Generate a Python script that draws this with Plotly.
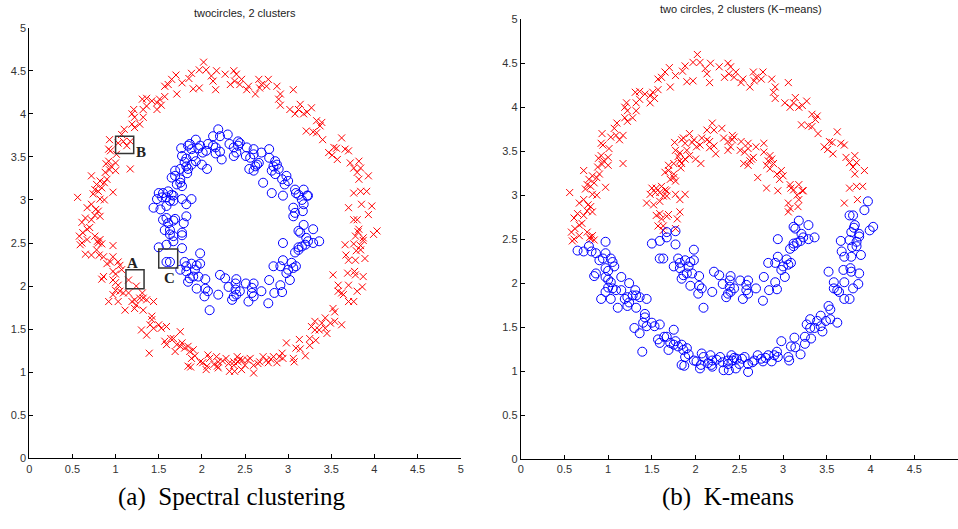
import plotly.graph_objects as go

# Two-circles dataset, split into four groups:
# outer ring / inner ring, each as the part above and below the K-means cut.
outer_upper_x = [2.02, 1.97, 2.05, 2.11, 2.17, 2.13, 2.16, 1.88, 1.85, 1.90, 1.97, 1.77, 1.70, 1.65, 1.71, 1.61, 1.57, 1.57,
                 1.51, 1.48, 1.53, 1.48, 1.42, 1.36, 1.31, 1.36, 1.21, 1.32, 1.22, 1.19, 1.32, 1.28, 1.19, 1.22, 1.10, 1.07,
                 0.93, 1.03, 1.09, 1.13, 1.17, 0.92, 0.94, 1.01, 1.17, 0.92, 1.00, 0.89, 0.95, 0.93, 1.00, 0.88, 0.82, 0.87,
                 0.90, 0.72, 0.78, 0.76, 0.80, 0.84, 0.97, 0.74, 0.82, 0.87, 0.67, 0.72, 0.77, 0.76, 0.80, 0.82, 0.72, 0.65,
                 0.61, 0.67, 0.70, 0.76, 0.62, 0.58, 0.67, 0.79, 0.82, 0.61, 0.56, 0.59, 0.84, 0.80,
                 2.27, 2.37, 2.40, 2.38, 2.33, 2.46, 2.44, 2.54, 2.52, 2.62, 2.66, 2.69, 2.77, 2.67, 2.75, 2.87, 2.91, 2.89,
                 2.91, 3.06, 3.02, 3.14, 3.12, 3.08, 3.27, 3.18, 3.22, 3.33, 3.39, 3.37, 3.21, 3.29, 3.33, 3.40, 3.62, 3.53,
                 3.47, 3.51, 3.56, 3.66, 3.70, 3.57, 3.72, 3.82, 3.76, 3.84, 3.80, 3.82, 3.93, 3.76, 3.84, 3.91, 3.85, 3.70]
outer_upper_y = [4.60, 4.51, 4.51, 4.44, 4.50, 4.38, 4.28, 4.47, 4.41, 4.29, 4.30, 4.36, 4.45, 4.40, 4.23, 4.34, 4.32, 4.20,
                 4.17, 4.13, 4.10, 4.05, 4.15, 4.18, 4.17, 4.09, 4.05, 4.05, 3.96, 4.00, 3.96, 3.88, 3.88, 3.84, 3.82, 3.76,
                 3.70, 3.66, 3.68, 3.63, 3.68, 3.59, 3.57, 3.53, 3.36, 3.45, 3.43, 3.42, 3.39, 3.35, 3.34, 3.32, 3.22, 3.20,
                 3.24, 3.28, 3.18, 3.12, 3.10, 3.14, 3.09, 3.07, 3.01, 3.00, 2.91, 2.95, 2.89, 2.82, 2.87, 2.81, 2.77, 2.79,
                 2.74, 2.66, 2.68, 2.58, 2.62, 2.58, 2.54, 2.52, 2.54, 2.50, 3.03, 2.48, 2.49, 2.50,
                 4.46, 4.50, 4.46, 4.38, 4.34, 4.40, 4.34, 4.32, 4.28, 4.23, 4.40, 4.34, 4.40, 4.30, 4.32, 4.32, 4.23, 4.17,
                 4.10, 4.28, 4.05, 4.11, 4.05, 4.00, 4.07, 4.00, 4.02, 3.92, 3.90, 3.86, 3.80, 3.79, 3.78, 3.70, 3.72, 3.61,
                 3.55, 3.52, 3.60, 3.59, 3.57, 3.47, 3.43, 3.45, 3.37, 3.37, 3.32, 3.24, 3.28, 3.08, 3.10, 3.10, 2.95, 2.91]

outer_lower_x = [0.97, 3.76, 3.80, 3.93, 3.82, 3.78, 3.87, 3.99, 4.03, 3.76, 3.84, 3.97,
                 0.65, 0.72, 0.78, 0.81, 0.86, 0.97, 0.94, 0.90, 1.03, 1.05, 1.07, 0.86, 0.84, 0.97, 1.00, 0.97, 1.00, 1.00,
                 0.97, 1.03, 1.05, 0.92, 1.03, 1.09, 1.15, 1.15, 1.11, 1.19, 1.22, 1.24, 1.24, 1.22, 1.28, 1.31, 1.32, 1.36,
                 1.32, 1.30, 1.36, 1.44, 1.42, 1.42, 1.40, 1.44, 1.50, 1.53, 1.59, 1.39, 1.57, 1.59, 1.64, 1.67, 1.71, 1.69,
                 1.75, 1.77, 1.75, 1.80, 1.84, 1.86, 1.90, 1.92, 1.88, 1.84, 1.87, 1.98, 2.01, 2.06, 2.07, 2.09, 2.05, 2.17,
                 2.19, 2.18, 2.19, 2.28, 2.31, 2.32, 2.37, 2.37, 2.41, 2.42, 2.38, 2.47, 2.50, 2.46, 2.56, 2.60, 2.60, 2.67,
                 2.71, 2.75, 2.77, 2.83, 2.87, 2.90, 2.93, 2.94, 2.98, 3.06, 3.07, 3.09, 3.14, 3.13, 3.20, 3.25, 3.25, 3.27,
                 3.31, 3.31, 3.32, 3.36, 3.39, 3.43, 3.43, 3.45, 3.49, 3.52, 3.54, 3.54, 3.62, 3.52, 3.58, 3.58, 3.62, 3.64,
                 3.66, 3.67, 3.70, 3.69, 3.70, 3.70, 3.76, 3.77, 3.78, 3.79, 3.78, 3.80, 3.81, 3.84, 3.87, 3.87, 3.89, 3.86,
                 2.24, 2.53, 2.65, 2.80, 2.14, 2.44]
outer_lower_y = [2.47, 2.77, 2.77, 2.83, 2.66, 2.58, 2.56, 2.60, 2.64, 2.49, 2.47, 2.93,
                 2.37, 2.36, 2.42, 2.36, 2.34, 2.34, 2.28, 2.26, 2.28, 2.24, 2.19, 2.11, 2.08, 2.17, 2.14, 2.07, 2.04, 1.95,
                 1.90, 2.01, 1.94, 1.82, 1.82, 1.92, 2.07, 1.92, 1.72, 1.82, 1.84, 2.00, 1.78, 1.74, 1.86, 1.92, 1.86, 1.84,
                 1.72, 1.49, 1.43, 1.82, 1.65, 1.61, 1.55, 1.51, 1.55, 1.51, 1.53, 1.22, 1.36, 1.32, 1.39, 1.39, 1.32, 1.24,
                 1.47, 1.34, 1.30, 1.28, 1.30, 1.24, 1.26, 1.19, 1.16, 1.07, 1.06, 1.12, 1.11, 1.07, 1.20, 1.16, 1.03, 1.18,
                 1.12, 1.07, 1.05, 1.16, 1.10, 1.01, 1.12, 1.08, 1.18, 1.12, 1.01, 1.14, 1.08, 1.03, 1.16, 1.08, 0.99, 1.12,
                 1.18, 1.14, 1.11, 1.18, 1.11, 1.18, 1.22, 1.16, 1.34, 1.16, 1.12, 1.28, 1.27, 1.38, 1.19, 1.31, 1.39, 1.53,
                 1.59, 1.49, 1.37, 1.49, 1.57, 1.63, 1.51, 1.45, 1.57, 1.74, 1.70, 1.59, 1.55, 2.13, 2.01, 1.94, 1.92, 1.90,
                 2.48, 2.36, 2.30, 2.15, 2.01, 1.82, 1.82, 2.17, 2.13, 2.41, 2.30, 1.94, 2.63, 2.42, 2.53, 2.11, 2.32, 1.99,
                 1.13, 1.14, 1.10, 1.15, 1.09, 1.15]

inner_upper_x = [2.19, 2.21, 2.13, 2.30, 2.13, 2.16, 2.21, 2.23, 2.16, 2.07, 1.98, 2.01, 2.05, 1.93, 1.86, 1.96, 1.90, 1.88,
                 1.84, 1.76, 1.77, 1.82, 1.93, 2.00, 2.06, 1.80, 1.82, 1.88, 1.75, 1.84, 1.83, 1.69, 1.69, 1.65, 1.75, 1.77,
                 1.75, 1.71, 2.32, 2.37, 2.44, 2.42, 2.40, 2.42, 2.52, 2.60, 2.60, 2.51, 2.56, 2.37, 2.69, 2.78, 2.64, 2.62,
                 2.55, 2.60, 2.66, 2.78, 2.85, 2.87, 2.83, 2.89, 2.85, 2.81, 2.71, 2.93, 2.98, 3.00, 2.96, 2.81, 2.94, 3.08,
                 3.09, 3.18, 3.12, 3.22, 3.23, 3.16, 3.18, 3.06, 3.08, 3.06, 3.17, 1.59, 1.44, 1.52, 1.48, 1.50, 1.55, 1.61,
                 1.65, 1.67, 1.59, 1.54, 1.63, 1.67, 1.77, 1.88, 1.82, 1.59, 1.55, 1.61, 1.57, 1.63, 1.67, 1.69, 1.82, 1.79,
                 1.63, 1.77]
inner_upper_y = [3.82, 3.74, 3.74, 3.76, 3.63, 3.61, 3.56, 3.47, 3.54, 3.65, 3.63, 3.55, 3.57, 3.70, 3.65, 3.60, 3.51, 3.59,
                 3.63, 3.60, 3.51, 3.48, 3.45, 3.41, 3.36, 3.44, 3.39, 3.41, 3.36, 3.36, 3.31, 3.34, 3.28, 3.26, 3.20, 3.16,
                 3.24, 3.18, 3.65, 3.61, 3.66, 3.63, 3.55, 3.68, 3.61, 3.59, 3.53, 3.51, 3.49, 3.51, 3.55, 3.59, 3.41, 3.39,
                 3.36, 3.34, 3.43, 3.49, 3.45, 3.41, 3.39, 3.36, 3.30, 3.34, 3.20, 3.24, 3.28, 3.22, 3.18, 3.08, 3.05, 3.12,
                 3.08, 3.12, 3.06, 3.05, 3.05, 3.00, 2.95, 2.91, 2.85, 2.81, 2.87, 2.93, 2.91, 2.89, 3.01, 3.08, 3.08, 3.10,
                 3.06, 3.05, 3.03, 3.03, 2.99, 2.99, 3.01, 3.01, 2.95, 2.79, 2.77, 2.73, 2.65, 2.65, 2.76, 2.78, 2.81, 2.73,
                 2.60, 2.62]

inner_lower_x = [1.67, 1.50, 3.18, 3.12, 3.14, 3.29, 3.21, 3.23, 3.36, 2.94, 3.12,
                 1.59, 1.67, 1.77, 1.77, 1.59, 1.63, 1.75, 1.80, 1.82, 1.88, 1.94, 1.98, 1.98, 1.82, 1.92, 1.90, 1.86, 1.84,
                 1.96, 1.94, 2.04, 2.04, 2.07, 2.03, 2.09, 2.19, 2.21, 2.27, 2.31, 2.35, 2.39, 2.39, 2.40, 2.44, 2.37, 2.40,
                 2.51, 2.54, 2.58, 2.58, 2.60, 2.60, 2.69, 2.78, 2.77, 2.83, 2.84, 2.91, 2.91, 2.93, 2.94, 2.98, 3.00, 3.02,
                 3.04, 3.06, 3.09, 3.08, 3.12, 3.16, 3.20, 3.29]
inner_lower_y = [2.58, 2.45, 2.71, 2.64, 2.62, 2.66, 2.56, 2.52, 2.52, 2.50, 2.45,
                 2.48, 2.52, 2.59, 2.44, 2.28, 2.28, 2.19, 2.28, 2.23, 2.26, 2.24, 2.38, 2.26, 2.17, 2.19, 2.11, 2.09, 2.05,
                 2.11, 1.97, 2.08, 1.97, 1.94, 1.88, 1.72, 1.90, 2.13, 2.09, 1.99, 1.84, 2.03, 1.96, 2.08, 1.94, 1.88, 1.90,
                 2.03, 1.82, 1.98, 1.92, 1.88, 2.03, 1.94, 2.07, 1.80, 2.23, 1.92, 2.23, 2.01, 1.93, 2.30, 2.15, 2.19, 2.07,
                 2.27, 2.21, 2.23, 2.39, 2.42, 2.46, 2.48, 2.50]

tick_vals = [0, 0.5, 1, 1.5, 2, 2.5, 3, 3.5, 4, 4.5, 5]
tick_text = ["0", "0.5", "1", "1.5", "2", "2.5", "3", "3.5", "4", "4.5", "5"]

RED = "#ff0000"
BLUE = "#0000ff"
W, H = 958, 529


def red_trace(xs, ys, xa, ya):
    return go.Scatter(x=xs, y=ys, mode="markers", xaxis=xa, yaxis=ya, showlegend=False,
                      marker=dict(symbol="x-thin", size=7, line=dict(color=RED, width=1)))


def blue_trace(xs, ys, xa, ya):
    return go.Scatter(x=xs, y=ys, mode="markers", xaxis=xa, yaxis=ya, showlegend=False,
                      marker=dict(symbol="circle-open", size=9, color=BLUE, line=dict(color=BLUE, width=1)))


fig = go.Figure()
# (a) spectral clustering: outer ring red, inner ring blue
fig.add_trace(red_trace(outer_upper_x + outer_lower_x, outer_upper_y + outer_lower_y, "x", "y"))
fig.add_trace(blue_trace(inner_upper_x + inner_lower_x, inner_upper_y + inner_lower_y, "x", "y"))
# (b) K-means: upper halves red, lower halves blue
fig.add_trace(red_trace(outer_upper_x + inner_upper_x, outer_upper_y + inner_upper_y, "x2", "y2"))
fig.add_trace(blue_trace(outer_lower_x + inner_lower_x, outer_lower_y + inner_lower_y, "x2", "y2"))

tick_font = dict(family="Liberation Sans, Arial, sans-serif", size=11, color="#333333")
axis_common = dict(range=[0, 5], tickvals=tick_vals, ticktext=tick_text, showgrid=False, zeroline=False,
                   showline=True, linecolor="#000000", linewidth=1, ticks="inside", ticklen=4,
                   tickcolor="#000000", tickfont=tick_font, automargin=False, mirror=False)


def px_x(p):
    return p / W


def px_y(p):
    return 1 - p / H


fig.update_layout(
    width=W, height=H, margin=dict(l=0, r=0, t=0, b=0),
    paper_bgcolor="white", plot_bgcolor="white",
    xaxis=dict(axis_common, domain=[px_x(29.3), px_x(460.7)], anchor="y"),
    yaxis=dict(axis_common, domain=[px_y(458.3), px_y(27.7)], anchor="x"),
    xaxis2=dict(axis_common, domain=[px_x(520.7), 1.0], anchor="y2"),
    yaxis2=dict(axis_common, domain=[px_y(459), px_y(19.3)], anchor="x2"),
)

title_font = dict(family="Liberation Sans, Arial, sans-serif", size=11, color="#222222")
cap_font = dict(family="Liberation Serif, Times New Roman, serif", size=25, color="#000000")
letter_font = dict(family="Liberation Serif, Times New Roman, serif", size=15, color="#222222")

annotations = [
    dict(text="twocircles, 2 clusters", x=px_x(245), y=px_y(13), xref="paper", yref="paper",
         showarrow=False, font=title_font, xanchor="center", yanchor="middle"),
    dict(text="two circles, 2 clusters (K\u2212means)", x=px_x(741), y=px_y(1), xref="paper", yref="paper",
         showarrow=False, font=title_font, xanchor="center", yanchor="top"),
    dict(text="(a)  Spectral clustering", x=px_x(231), y=px_y(497), xref="paper", yref="paper",
         showarrow=False, font=cap_font, xanchor="center", yanchor="middle"),
    dict(text="(b)  K-means", x=px_x(728), y=px_y(497), xref="paper", yref="paper",
         showarrow=False, font=cap_font, xanchor="center", yanchor="middle"),
    dict(text="<b>A</b>", x=1.20, y=2.27, xref="x", yref="y", showarrow=False, font=letter_font),
    dict(text="<b>B</b>", x=1.29, y=3.56, xref="x", yref="y", showarrow=False, font=letter_font),
    dict(text="<b>C</b>", x=1.62, y=2.09, xref="x", yref="y", showarrow=False, font=letter_font),
]
fig.update_layout(annotations=annotations)

box_line = dict(color="#333333", width=1.5)
fig.update_layout(shapes=[
    dict(type="rect", xref="x", yref="y", x0=1.12, x1=1.33, y0=1.97, y1=2.19, line=box_line),
    dict(type="rect", xref="x", yref="y", x0=1.00, x1=1.21, y0=3.54, y1=3.74, line=box_line),
    dict(type="rect", xref="x", yref="y", x0=1.50, x1=1.72, y0=2.21, y1=2.43, line=box_line),
])

fig.write_html("out.html")
